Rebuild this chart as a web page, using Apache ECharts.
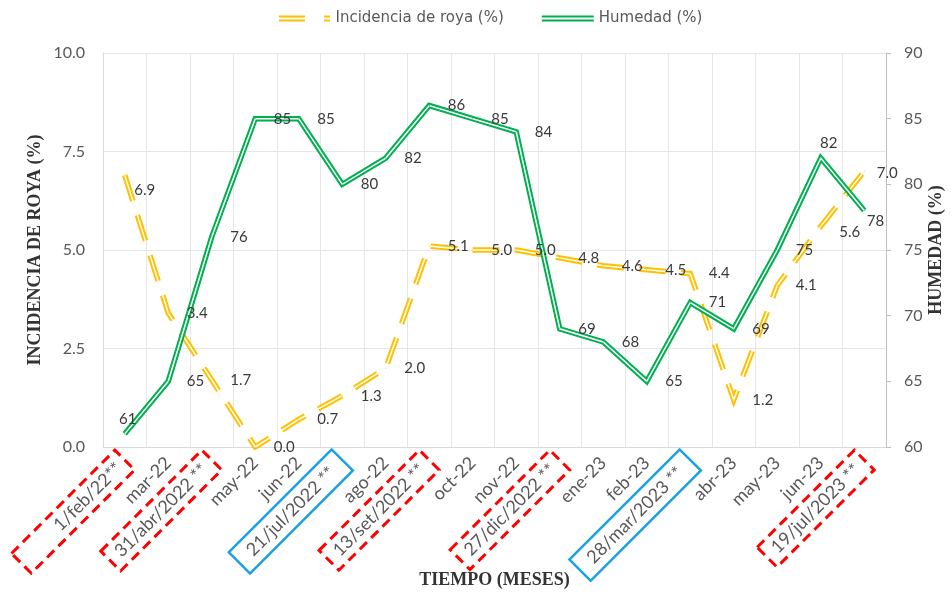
<!DOCTYPE html>
<html>
<head>
<meta charset="utf-8">
<script src="https://cdn.jsdelivr.net/npm/echarts@6/dist/echarts.min.js"></script>
<style>
html,body{margin:0;padding:0;background:#fff;}
#chart{width:952px;height:595px;}
</style>
</head>
<body>
<div id="chart"></div>
<script>
// ---- Data ----
const categories = ['1/feb/22**','mar-22','31/abr/2022 **','may-22','jun-22','21/jul/2022 **','ago-22','13/set/2022 **','oct-22','nov-22','27/dic/2022 **','ene-23','feb-23','28/mar/2023 **','abr-23','may-23','jun-23','19/jul/2023 **'];
const royaValues = [6.9, 3.4, 1.7, 0.0, 0.7, 1.3, 2.0, 5.1, 5.0, 5.0, 4.8, 4.6, 4.5, 4.4, 1.2, 4.1, 5.6, 7.0];
const humedadValues = [61, 65, 76, 85, 85, 80, 82, 86, 85, 84, 69, 68, 65, 71, 69, 75, 82, 78];
const leftTicks = [0, 10, 2.5];   // min, max, interval
const rightTicks = [60, 90, 5];   // min, max, interval

// ---- Styles ----
const boxedLabels = {0:'redwide', 2:'red', 5:'blue', 7:'red', 10:'red', 13:'blue', 17:'red'};
const royaLabelFix = {0:{offset:[-9,15]}, 16:{offset:[0,6]}, 17:{offset:[-6,2]}};
const humLabelFix = {0:{position:'top', distance:7, offset:[3,0]}, 16:{position:'top', distance:7, offset:[8,0]}, 17:{position:'right', distance:2, offset:[0,11]}};

const YELLOW = '#FFC000', GREEN = '#00B050';
const DASH = [27, 15];
const font = 'Lato, "Open Sans", sans-serif';
const legendFont = '"DejaVu Sans", sans-serif';
const serif = '"Liberation Serif", "DejaVu Serif", serif';

const chart = echarts.init(document.getElementById('chart'), null, {renderer:'canvas'});

const labelBase = {fontSize:18, color:'#595959', fontFamily:font, lineHeight:20};
const redBox = Object.assign({borderColor:'#FF0000', borderWidth:3, borderType:[10,6], padding:[5,10,5,10]}, labelBase);
const option = {
  animation:false,
  backgroundColor:'#fff',
  legend:{
    top:6, left:274, itemGap:38, itemWidth:52, itemHeight:6,
    itemStyle:{borderWidth:0},
    textStyle:{fontFamily:legendFont, fontSize:15, color:'#595959'},
    data:[
      {name:'Incidencia de roya (%)', icon:'path://M0,0H26V2H0Z M0,4H26V6H0Z M45,0H51V2H45Z M45,4H51V6H45Z'},
      {name:'Humedad (%)', icon:'path://M0,0H52V2H0Z M0,4H52V6H0Z'}
    ]
  },
  grid:{left:103, right:66, top:53, bottom:148, containLabel:false, outerBoundsMode:'none'},
  xAxis:{
    type:'category', data:categories, boundaryGap:true,
    axisLine:{lineStyle:{color:'#D9D9D9'}},
    axisTick:{show:false},
    splitLine:{show:true, lineStyle:{color:'#E6E6E6'}},
    axisLabel:Object.assign({
      interval:0, rotate:45, margin:13,
      formatter:(v,i)=> boxedLabels[i] ? '{'+boxedLabels[i]+'|'+v+'}' : v,
      rich:{
        red:redBox,
        redwide:Object.assign({}, redBox, {padding:[5,8,5,50]}),
        blue:Object.assign({borderColor:'#1BA1E2', borderWidth:2.5, padding:[6,14,6,14]}, labelBase)
      }
    }, labelBase),
    name:'TIEMPO (MESES)', nameLocation:'middle', nameGap:124, nameMoveOverlap:false,
    nameTextStyle:{fontFamily:serif, fontWeight:'bold', fontSize:18, color:'#333'}
  },
  yAxis:[
    {
      type:'value', min:leftTicks[0], max:leftTicks[1], interval:leftTicks[2],
      axisLine:{show:true, lineStyle:{color:'#D9D9D9'}},
      axisTick:{show:false},
      splitLine:{show:true, lineStyle:{color:'#E6E6E6'}},
      axisLabel:{margin:18, fontSize:16, color:'#595959', fontFamily:font, formatter:v=>v.toFixed(1)},
      name:'INCIDENCIA DE ROYA (%)', nameLocation:'middle', nameGap:59, nameMoveOverlap:false,
      nameTextStyle:{fontFamily:serif, fontWeight:'bold', fontSize:18, color:'#333'}
    },
    {
      type:'value', min:rightTicks[0], max:rightTicks[1], interval:rightTicks[2], position:'right',
      axisLine:{show:true, lineStyle:{color:'#BFBFBF'}},
      axisTick:{show:true, length:5, lineStyle:{color:'#BFBFBF'}},
      splitLine:{show:false},
      axisLabel:{margin:18, fontSize:16, color:'#595959', fontFamily:font},
      name:'HUMEDAD (%)', nameLocation:'middle', nameGap:41, nameRotate:90, nameMoveOverlap:false,
      nameTextStyle:{fontFamily:serif, fontWeight:'bold', fontSize:18, color:'#333'}
    }
  ],
  series:[
    {
      name:'Incidencia de roya (%)', type:'line', yAxisIndex:0, color:YELLOW,
      symbol:'circle', symbolSize:1, showSymbol:true,
      itemStyle:{color:YELLOW},
      lineStyle:{color:YELLOW, width:5.5, type:DASH, join:'miter'},
      label:{show:true, position:'right', distance:18, fontSize:15, fontFamily:font, color:'#3a3a3a', formatter:p=>Number(p.value).toFixed(1)},
      data:royaValues.map((v,i)=>({value:v, label:royaLabelFix[i]}))
    },
    {
      name:'roya-inner', type:'line', yAxisIndex:0, symbol:'none', silent:true,
      lineStyle:{color:'#fff', width:1.5, type:DASH, join:'miter'},
      data:royaValues
    },
    {
      name:'Humedad (%)', type:'line', yAxisIndex:1, color:GREEN,
      symbol:'circle', symbolSize:1, showSymbol:true,
      itemStyle:{color:GREEN},
      lineStyle:{color:GREEN, width:5.5, join:'miter'},
      label:{show:true, position:'right', distance:18, fontSize:15, fontFamily:font, color:'#3a3a3a'},
      data:humedadValues.map((v,i)=>({value:v, label:humLabelFix[i]}))
    },
    {
      name:'hum-inner', type:'line', yAxisIndex:1, symbol:'none', silent:true,
      lineStyle:{color:'#fff', width:1.5, join:'miter'},
      data:humedadValues
    }
  ]
};
chart.setOption(option);
</script>
</body>
</html>
